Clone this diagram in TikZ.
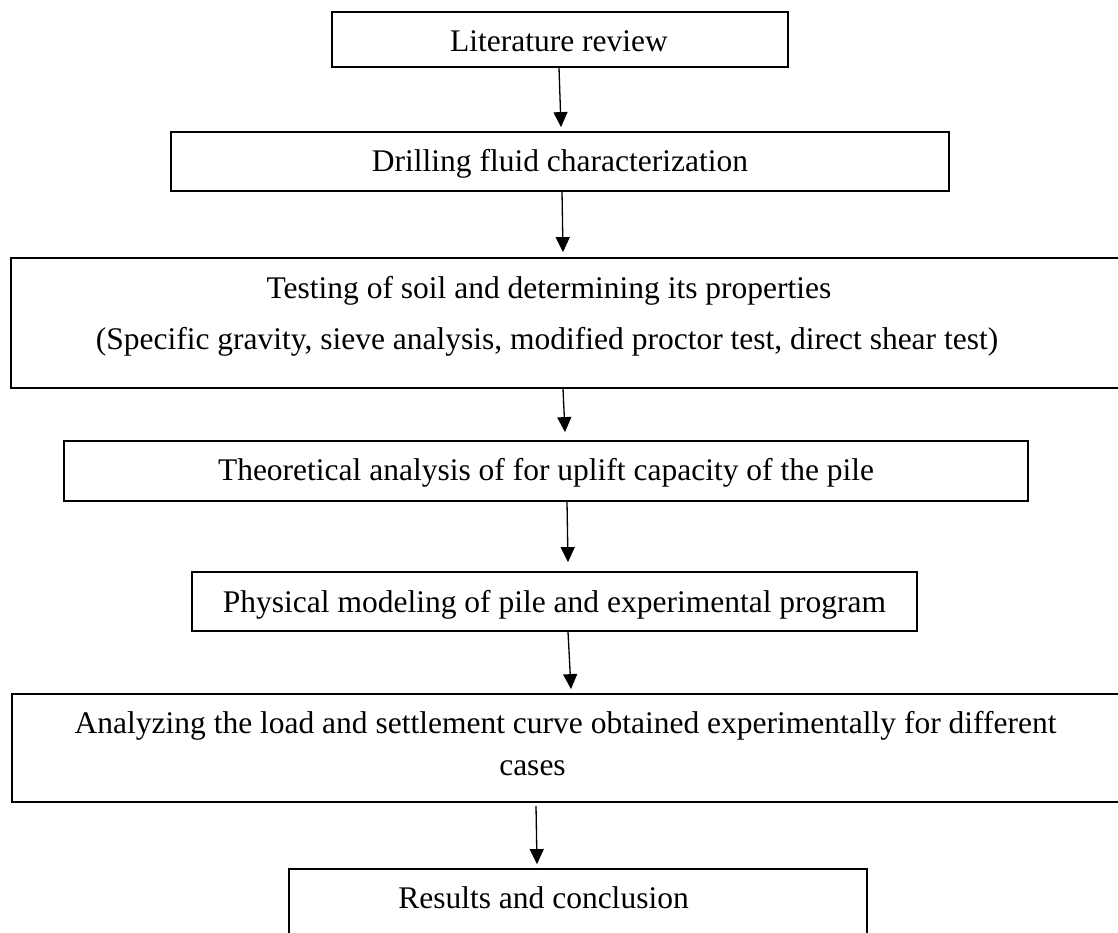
\documentclass[tikz,border=0pt]{standalone}
\usepackage{fontspec}
\setmainfont{Liberation Serif}
\usetikzlibrary{arrows.meta}
\begin{document}
\begin{tikzpicture}[x=1pt,y=-1pt,
  stepbox/.style={draw=black,line width=1.8pt,rectangle,inner sep=0pt},
  txt/.style={inner sep=0pt,anchor=base,font=\fontsize{31.5}{38}\selectfont},
  arr/.style={line width=1.3pt,-{Triangle[length=15pt,width=14pt]}}]
\useasboundingbox (0,0) rectangle (1118,933);
\node[stepbox,minimum width=456pt,minimum height=55pt] (b1) at (560,39.5) {};
\node[stepbox,minimum width=778pt,minimum height=59pt] (b2) at (560,161.5) {};
\node[stepbox,minimum width=1119pt,minimum height=130pt] (b3) at (570.5,323) {};
\node[stepbox,minimum width=964pt,minimum height=60pt] (b4) at (546,471) {};
\node[stepbox,minimum width=725pt,minimum height=59pt] (b5) at (554.5,601.5) {};
\node[stepbox,minimum width=1118pt,minimum height=108pt] (b6) at (571,748) {};
\node[stepbox,minimum width=578pt,minimum height=76pt] (b7) at (578,907) {};
\node[txt] (t1) at (559,52) {Literature review};
\node[txt] (t2) at (560,172) {Drilling fluid characterization};
\node[txt] (t3a) at (549,298) {Testing of soil and determining its properties};
\node[txt] (t3b) at (547,349) {(Specific gravity, sieve analysis, modified proctor test, direct shear test)};
\node[txt] (t4) at (546,480) {Theoretical analysis of for uplift capacity of the pile};
\node[txt] (t5) at (554.5,612) {Physical modeling of pile and experimental program};
\node[txt] (t6a) at (565.5,733) {Analyzing the load and settlement curve obtained experimentally for different};
\node[txt] (t6b) at (532.5,775) {cases};
\node[txt] (t7) at (543.5,908) {Results and conclusion};
\draw[arr] ([xshift=-1pt]b1.south) -- ([xshift=1pt,yshift=4pt]b2.north);
\draw[arr] ([xshift=2pt]b2.south) -- ([xshift=-7.5pt,yshift=5pt]b3.north);
\draw[arr] ([xshift=-7.5pt]b3.south) -- ([xshift=19pt,yshift=8pt]b4.north);
\draw[arr] ([xshift=21pt]b4.south) -- ([xshift=13.5pt,yshift=9pt]b5.north);
\draw[arr] ([xshift=13.5pt]b5.south) -- ([yshift=4pt]b6.north);
\draw[arr] ([xshift=-35pt,yshift=-3pt]b6.south) -- ([xshift=-41pt,yshift=4pt]b7.north);
\end{tikzpicture}
\end{document}
